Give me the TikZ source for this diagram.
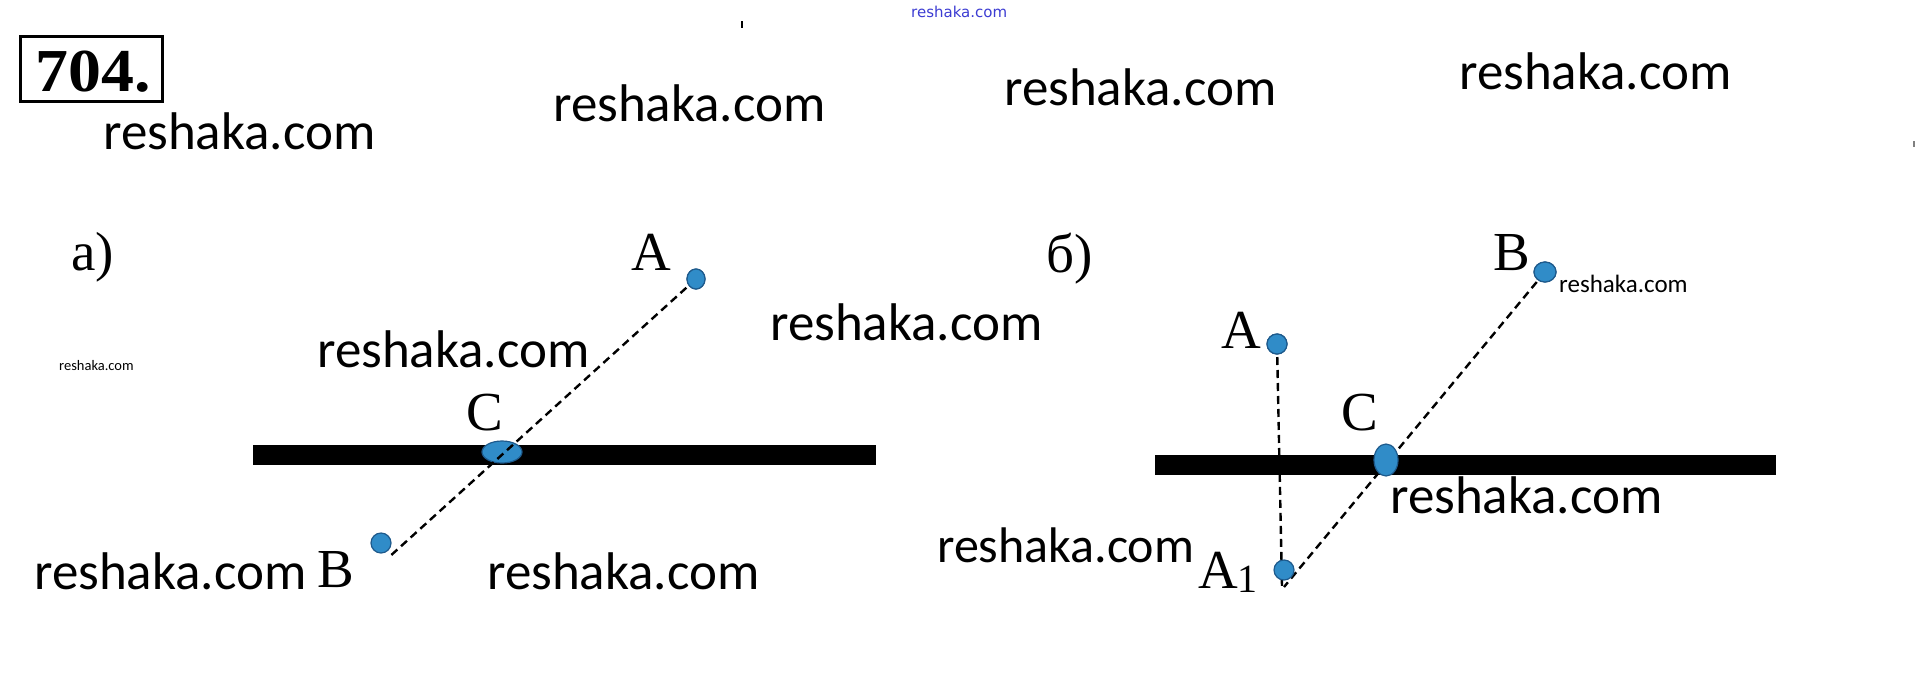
\documentclass[tikz,border=0pt]{standalone}
\usepackage{fontspec}
\setmainfont{Liberation Serif}
\newfontfamily\wmfont{Carlito}
\newfontfamily\blufont{DejaVu Sans}
\usetikzlibrary{shapes.geometric}
\definecolor{dotfill}{RGB}{48,140,200}
\definecolor{dotedge}{RGB}{30,90,140}
\definecolor{wmblue}{RGB}{60,60,210}
\tikzset{
  wm/.style={anchor=base west,inner sep=0pt,font=\wmfont\fontsize{53}{53}\selectfont},
  lbl/.style={anchor=base west,inner sep=0pt,font=\fontsize{55}{55}\selectfont},
  pt/.style={ellipse,fill=dotfill,draw=dotedge,line width=1.2pt,inner sep=0pt},
  dashln/.style={line width=2.4pt,dash pattern=on 8pt off 5pt},
  barln/.style={fill=black}
}
\begin{document}
\begin{tikzpicture}[x=1pt,y=-1pt]
\useasboundingbox (0,0) rectangle (1918,686);
% title box
\node[draw,line width=3pt,minimum width=142pt,minimum height=65pt,inner sep=0pt] (num) at (91.5,69) {};
\node[anchor=base west,inner sep=0pt,font=\bfseries\fontsize{61}{61}\selectfont] (numt) at (35,91) {\scalebox{1.08}[1]{704.}};
% tiny marks
\draw[line width=2pt] (742,21) -- (742,28);
\draw[line width=1.5pt,gray] (1914,141) -- (1914,147);
% blue watermark
\node[anchor=base west,inner sep=0pt,text=wmblue,font=\blufont\fontsize{15}{15}\selectfont] (wb) at (911,17) {reshaka.com};
% watermarks
\node[wm] (w1) at (103,149) {reshaka.com};
\node[wm] (w2) at (553,121) {reshaka.com};
\node[wm] (w3) at (1004,105) {reshaka.com};
\node[wm] (w4) at (1459,89) {reshaka.com};
\node[wm] (w5) at (317,367) {reshaka.com};
\node[wm] (w6) at (770,340) {reshaka.com};
\node[wm] (w7) at (34,589) {reshaka.com};
\node[wm] (w8) at (487,589) {reshaka.com};
\node[wm,font=\wmfont\fontsize{50}{50}\selectfont] (w9) at (937,562) {reshaka.com};
\node[wm] (w10) at (1390,513) {reshaka.com};
\node[anchor=base west,inner sep=0pt,font=\wmfont\fontsize{25}{25}\selectfont] (w11) at (1559,292) {reshaka.com};
\node[anchor=base west,inner sep=0pt,font=\wmfont\fontsize{14.5}{14.5}\selectfont] (w12) at (59,370) {reshaka.com};
% part a
\node[lbl] (la) at (71,270) {а)};
\fill[barln] (253,445) rectangle (876,465);
\coordinate (aEnd) at (388,558);
\node[pt,minimum width=18pt,minimum height=20pt] (aA) at (696,279) {};
\node[pt,minimum width=40pt,minimum height=22pt] (aC) at (502,452) {};
\node[pt,minimum width=20pt,minimum height=20pt] (aB) at (381,543) {};
\draw[dashln] (aA.center) -- (aEnd);
\node[pt,minimum width=18pt,minimum height=20pt] at (aA) {};
\node[lbl] (laA) at (631,270) {A};
\node[lbl] (laC) at (466,430) {C};
\node[lbl] (laB) at (317,587) {B};
% part b
\node[lbl] (lb) at (1046,272) {б)};
\fill[barln] (1155,455) rectangle (1776,475);
\coordinate (bEndV) at (1282,587);
\coordinate (bEnd) at (1284,587);
\node[pt,minimum width=22pt,minimum height=20pt] (bB) at (1545,272) {};
\node[pt,minimum width=20pt,minimum height=20pt] (bA) at (1277,344) {};
\draw[dashln] (bB.center) -- (bEnd);
\draw[dashln] (bA.center) -- (bEndV);
\node[pt,minimum width=24pt,minimum height=32pt] (bC) at (1386,460) {};
\node[pt,minimum width=20pt,minimum height=20pt] (bA1) at (1284,570) {};
\node[pt,minimum width=22pt,minimum height=20pt] at (bB) {};
\node[pt,minimum width=20pt,minimum height=20pt] at (bA) {};
\node[lbl] (lbB) at (1493,270) {B};
\node[lbl] (lbA) at (1221,348) {A};
\node[lbl] (lbC) at (1341,430) {C};
\node[lbl] (lbA1) at (1198,588) {A\raisebox{-4pt}{\fontsize{40}{40}\selectfont 1}};
\end{tikzpicture}
\end{document}
